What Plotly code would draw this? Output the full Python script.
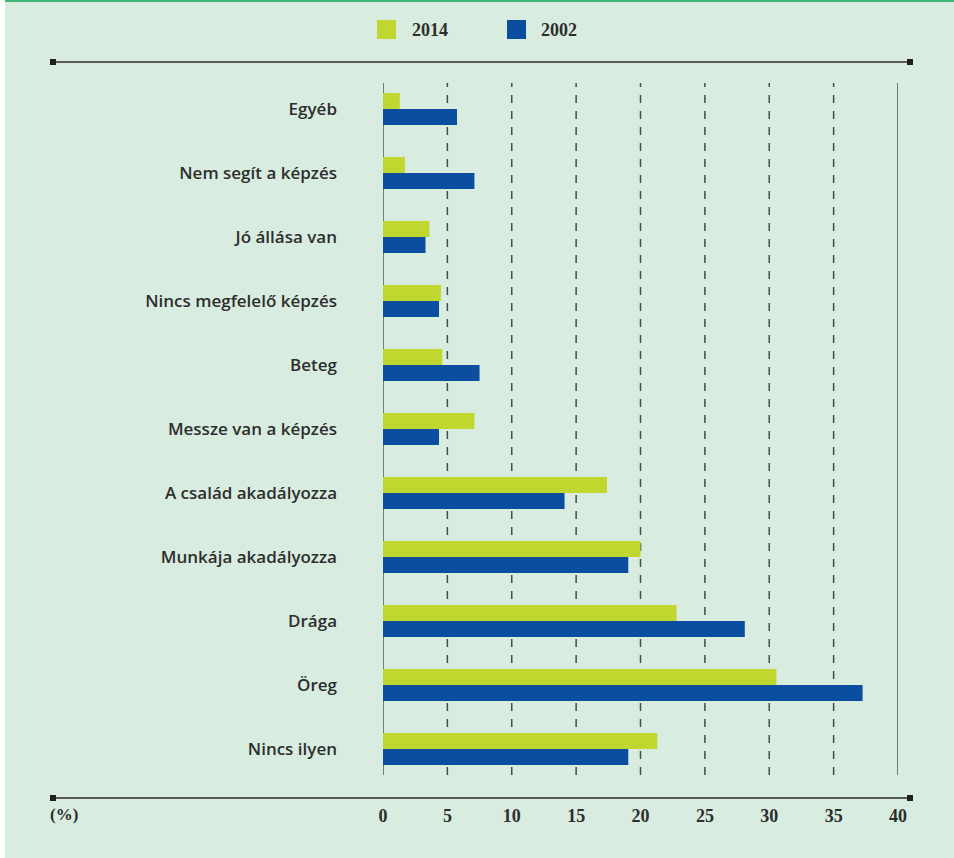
import plotly.graph_objects as go

categories = ["Egyéb", "Nem segít a képzés", "Jó állása van", "Nincs megfelelő képzés",
              "Beteg", "Messze van a képzés", "A család akadályozza", "Munkája akadályozza",
              "Drága", "Öreg", "Nincs ilyen"]
values_2014 = [1.3, 1.7, 3.6, 4.5, 4.6, 7.1, 17.4, 20.0, 22.8, 30.55, 21.3]
values_2002 = [5.75, 7.1, 3.3, 4.35, 7.5, 4.35, 14.1, 19.05, 28.1, 37.25, 19.05]
x_ticks = [0, 5, 10, 15, 20, 25, 30, 35, 40]
series_names = ["2014", "2002"]

BG = "#d8ece0"
C2014 = "#c0d72f"
C2002 = "#0b4d9f"
TXT = "#2e2e2e"
FONT = "Open Sans"
NUMFONT = "Liberation Serif"

W, H = 954, 858
L, R, T, B = 383, 56, 77, 77
pw = W - L - R
ph = H - T - B

def px_x(p):
    return (p - L) / pw

def px_y(p):
    return (H - B - p) / ph

fig = go.Figure()
fig.add_trace(go.Bar(y=categories, x=values_2014, orientation="h", name=series_names[0],
                     marker=dict(color=C2014, line=dict(width=0)), offsetgroup="a"))
fig.add_trace(go.Bar(y=categories, x=values_2002, orientation="h", name=series_names[1],
                     marker=dict(color=C2002, line=dict(width=0)), offsetgroup="b"))

shapes = []
# grid lines
for t in x_ticks:
    if t == 0:
        shapes.append(dict(type="line", xref="x", yref="paper", x0=t, x1=t,
                           y0=px_y(775), y1=px_y(83), line=dict(color="#7a7a7a", width=2), layer="below"))
    elif t == 40:
        shapes.append(dict(type="line", xref="x", yref="paper", x0=t, x1=t,
                           y0=px_y(775), y1=px_y(83), line=dict(color="#555555", width=1.5), layer="below"))
    else:
        shapes.append(dict(type="line", xref="x", yref="paper", x0=t, x1=t,
                           y0=px_y(775), y1=px_y(83), line=dict(color="#4a4a4a", width=1.5, dash="8px,8px"),
                           layer="below"))
# top & bottom rule lines with square caps
for yy, col, wd in [(62, "#5c5c58", 2), (798, "#2a2a2a", 1.6)]:
    shapes.append(dict(type="line", xref="paper", yref="paper", x0=px_x(53), x1=px_x(910),
                       y0=px_y(yy), y1=px_y(yy), line=dict(color=col, width=wd)))
    for cx in (53, 910):
        shapes.append(dict(type="rect", xref="paper", yref="paper", x0=px_x(cx - 3), x1=px_x(cx + 3),
                           y0=px_y(yy + 3), y1=px_y(yy - 3), fillcolor="#231f20", line=dict(width=0)))
# top green stripe and left white strip
shapes.append(dict(type="rect", xref="paper", yref="paper", x0=px_x(0), x1=px_x(W),
                   y0=px_y(2), y1=px_y(-1), fillcolor="#3cb878", line=dict(width=0)))
shapes.append(dict(type="rect", xref="paper", yref="paper", x0=px_x(-1), x1=px_x(5),
                   y0=px_y(H + 1), y1=px_y(-1), fillcolor="#ffffff", line=dict(width=0)))
# legend squares
for sx, col in [(377, C2014), (507, C2002)]:
    shapes.append(dict(type="rect", xref="paper", yref="paper", x0=px_x(sx), x1=px_x(sx + 19),
                       y0=px_y(39), y1=px_y(20), fillcolor=col, line=dict(width=0)))

annotations = [
    dict(text=series_names[0], xref="paper", yref="paper", x=px_x(410), y=px_y(30),
         xanchor="left", yanchor="middle", showarrow=False,
         font=dict(family=NUMFONT, size=18, color=TXT, weight="bold")),
    dict(text=series_names[1], xref="paper", yref="paper", x=px_x(539), y=px_y(30),
         xanchor="left", yanchor="middle", showarrow=False,
         font=dict(family=NUMFONT, size=18, color=TXT, weight="bold")),
    dict(text="(%)", xref="paper", yref="paper", x=px_x(48), y=px_y(814),
         xanchor="left", yanchor="middle", showarrow=False,
         font=dict(family=NUMFONT, size=17, color=TXT, weight="bold")),
]

fig.update_layout(
    width=W, height=H,
    margin=dict(l=L, r=R, t=T, b=B, pad=0),
    paper_bgcolor=BG, plot_bgcolor=BG,
    showlegend=False,
    barmode="group", bargap=0.5, bargroupgap=0,
    shapes=shapes, annotations=annotations,
    xaxis=dict(range=[0, 40], tickvals=x_ticks, ticktext=[str(t) for t in x_ticks],
               showgrid=False, zeroline=False, showline=False, ticks="",
               ticklabelstandoff=22,
               tickfont=dict(family=NUMFONT, size=18, color=TXT, weight="bold"), fixedrange=True),
    yaxis=dict(categoryorder="array", categoryarray=categories, autorange="reversed",
               showgrid=False, zeroline=False, showline=False, ticks="",
               ticklabelstandoff=45,
               tickfont=dict(family=FONT, size=17, color=TXT, weight=600), fixedrange=True),
)

fig.write_html("out.html", config={"displayModeBar": False},
               post_script="document.body.style.margin='0';document.body.style.padding='0';")
